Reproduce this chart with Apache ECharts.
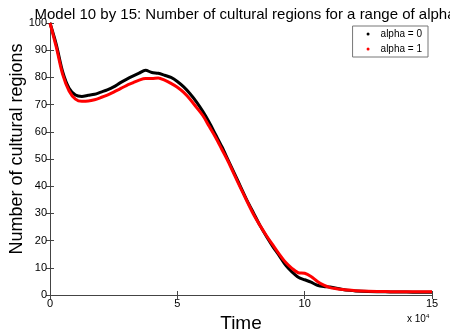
<!DOCTYPE html>
<html><head><meta charset="utf-8">
<script src="https://cdn.jsdelivr.net/npm/echarts@6/dist/echarts.min.js"></script>
<style>html,body{margin:0;padding:0;background:#fff}#c{width:450px;height:332px}</style>
</head><body><div id="c"></div>
<script>
const titleText = "Model 10 by 15: Number of cultural regions for a range of alpha";
const xName = "Time";
const yName = "Number of cultural regions";
const seriesNames = ["alpha = 0", "alpha = 1"];
const timeX = [0,0.25,0.5,0.75,1,1.25,1.5,1.75,2,2.25,2.5,2.75,3,3.25,3.5,3.75,4,4.25,4.5,4.75,5,5.25,5.5,5.75,6,6.25,6.5,6.75,7,7.25,7.5,7.75,8,8.25,8.5,8.75,9,9.25,9.5,9.75,10,10.25,10.5,10.75,11,11.25,11.5,11.75,12,12.5,13,13.5,14,14.5,15];
const alpha0 = [100,92,82,76,73.5,73,73.4,73.8,74.6,75.4,76.5,78,79.3,80.5,81.6,82.6,81.8,81.5,80.8,80,78.5,76.5,74,71,67.5,63.5,59,54.5,49.5,44.5,39.5,34.5,30,25.5,21.5,17.8,14.5,11,8.5,6.5,5.6,4.7,3.6,3.1,2.9,2.5,2.0,1.7,1.5,1.3,1.2,1.1,1.1,1.0,1.0];
const alpha1 = [100,91,81,75,72,71.2,71.3,71.8,72.6,73.5,74.6,75.8,77,78,79,79.6,79.6,79.8,79,77.8,76.4,74.5,72,69,66,62,58,53.5,49,44,39,34.2,29.5,25.5,21.8,18.4,15,12,9.8,8.2,8,6.8,5,3.6,2.7,2.3,2.0,1.8,1.6,1.4,1.3,1.2,1.2,1.2,1.2];
const xTicks = [0,5,10,15];

const chart = echarts.init(document.getElementById('c'));
const font = 'Liberation Sans, Arial, sans-serif';
const axCol = '#444';
function pairs(ys){ return ys.map((y,i)=>[timeX[i], y]); }
chart.setOption({
  animation:false,
  backgroundColor:'#fff',
  title:{text:titleText,left:240,textAlign:'center',top:2,textStyle:{fontFamily:font,fontSize:15,fontWeight:'normal',color:'#000'}},
  grid:{left:50,right:18,top:23,bottom:37,containLabel:false,outerBoundsMode:'none'},
  legend:{right:22,top:26,orient:'vertical',data:seriesNames,icon:'circle',itemWidth:3,itemHeight:3,itemGap:5,
    backgroundColor:'#fff',borderColor:'#777',borderWidth:1,padding:[3,6,3,14],
    textStyle:{fontFamily:font,fontSize:10,color:'#000',padding:[0,0,0,6]}},
  xAxis:[{type:'value',min:0,max:15,interval:5,name:xName,nameLocation:'middle',nameGap:13,
    nameTextStyle:{fontFamily:font,fontSize:19,color:'#000',verticalAlign:'top'},
    axisLine:{show:true,lineStyle:{color:axCol}},axisTick:{inside:true,length:4,lineStyle:{color:axCol}},
    axisLabel:{fontFamily:font,fontSize:11,color:'#000',margin:3},splitLine:{show:false}},
    {type:'value',position:'top',min:0,max:15,interval:5,axisLine:{show:true,lineStyle:{color:axCol}},
    axisTick:{inside:true,length:4,lineStyle:{color:axCol}},axisLabel:{show:false},splitLine:{show:false}}],
  yAxis:[{type:'value',min:0,max:100,interval:10,
    axisLine:{show:true,lineStyle:{color:axCol}},axisTick:{inside:true,length:4,lineStyle:{color:axCol}},
    axisLabel:{fontFamily:font,fontSize:11,color:'#000',margin:3},splitLine:{show:false}},
    {type:'value',position:'right',min:0,max:100,interval:10,axisLine:{show:true,lineStyle:{color:axCol}},
    axisTick:{inside:true,length:4,lineStyle:{color:axCol}},axisLabel:{show:false},splitLine:{show:false}}],
  graphic:[
    {type:'text',left:407,top:313,style:{text:'x 10{s|4}',fontFamily:font,fontSize:10,fill:'#000',
      rich:{s:{fontSize:6,verticalAlign:'top',padding:[0,0,7,0],fontFamily:font}}}},
    {type:'text',x:17,y:149,rotation:Math.PI/2,style:{text:yName,fontFamily:font,fontSize:18,fill:'#000',align:'center',verticalAlign:'middle'}}
  ],
  series:[
    {name:seriesNames[0],type:'line',data:pairs(alpha0),smooth:0.3,showSymbol:false,symbol:'circle',color:'#000',lineStyle:{width:3,color:'#000'},z:2},
    {name:seriesNames[1],type:'line',data:pairs(alpha1),smooth:0.3,showSymbol:false,symbol:'circle',color:'#ff0000',lineStyle:{width:3,color:'#ff0000'},z:3}
  ]
});
</script></body></html>
